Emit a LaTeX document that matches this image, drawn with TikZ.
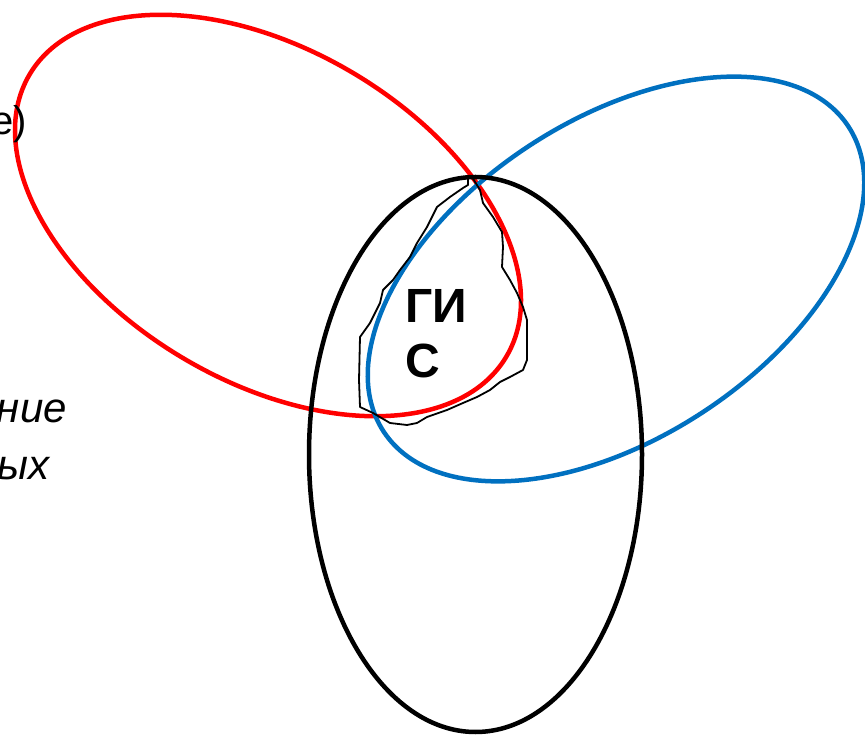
\documentclass[tikz,border=0pt]{standalone}
\usepackage{fontspec}
\setmainfont{Liberation Sans}
\usetikzlibrary{shapes, shapes.geometric}
\definecolor{sinij}{RGB}{0,112,192}

\begin{document}
\begin{tikzpicture}[x=1pt, y=1pt]
\useasboundingbox (0,0) rectangle (865,734);

% красный эллипс
\node[ellipse, draw=red, line width=4.5pt, inner sep=0, minimum width=554pt, minimum height=332pt, rotate=-30.6] (R) at (268,518.5) {};

% синий эллипс
\node[ellipse, draw=sinij, line width=4.5pt, inner sep=0, minimum width=556pt, minimum height=318pt, rotate=33.3] (B) at (616,455) {};

% чёрный эллипс
\node[ellipse, draw=black, line width=4.5pt, inner sep=0, minimum width=333pt, minimum height=555pt] (K) at (475.5,279.5) {};

% область пересечения
\draw[line width=1.8pt, line join=round] (468,549) -- (468,557) -- (472,557) -- (480,544) -- (483,531) -- (493,517) -- (502,502) -- (503,487) -- (502,467) -- (510,454) -- (517,441) -- (523,427) -- (527,414) -- (527,394) -- (527,374) -- (523,364) -- (510,357) -- (500,352) -- (490,344) -- (477,337) -- (463,331) -- (447,324) -- (427,317) -- (417,311) -- (407,309) -- (390,311) -- (373,321) -- (360,327) -- (359,354) -- (360,397) -- (370,411) -- (380,431) -- (383,444) -- (393,454) -- (400,464) -- (410,477) -- (417,491) -- (427,507) -- (437,527) -- (450,537) -- (463,546) -- cycle;

% надписи
\node[anchor=base west, inner sep=0, align=left, font=\fontsize{48}{55}\selectfont\bfseries] (G) at (405,356) {ГИ\\С};
\node[anchor=base east, inner sep=0, font=\fontsize{40}{48}\selectfont] (T1) at (27,599) {e)};
\node[anchor=base east, inner sep=0, font=\fontsize{42}{50}\selectfont\itshape] (T2) at (67,311) {ние};
\node[anchor=base east, inner sep=0, font=\fontsize{42}{50}\selectfont\itshape] (T3) at (50,254) {ых};

\end{tikzpicture}
\end{document}
